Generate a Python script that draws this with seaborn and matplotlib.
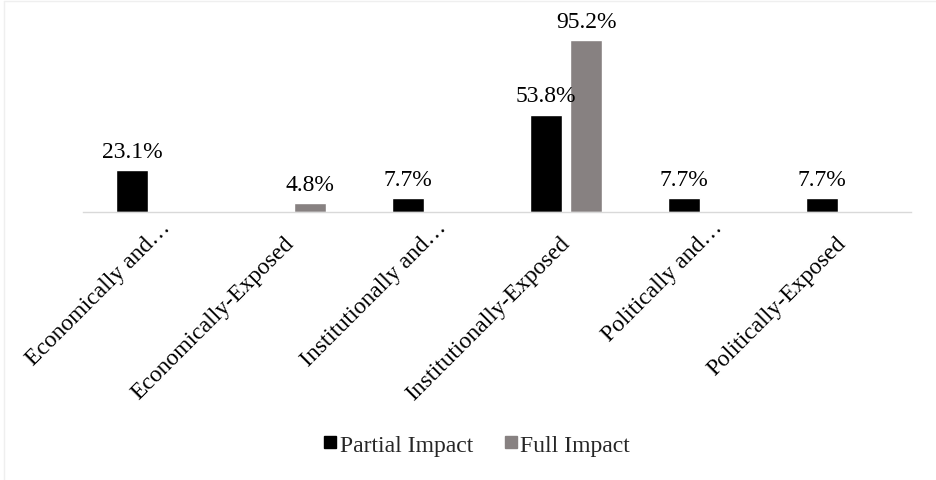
import matplotlib
matplotlib.use("Agg")
import matplotlib.pyplot as plt
import matplotlib.transforms as mtransforms
import seaborn as sns
import pandas as pd
from matplotlib.lines import Line2D

# Impact shares per exposure category (percent)
categories = ["Economically and…", "Economically-Exposed", "Institutionally and…",
              "Institutionally-Exposed", "Politically and…", "Politically-Exposed"]
partial_impact = [23.1, 0.0, 7.7, 53.8, 7.7, 7.7]
full_impact = [0.0, 4.8, 0.0, 95.2, 0.0, 0.0]
series_names = ["Partial Impact", "Full Impact"]
series_colors = ["#000000", "#878181"]

df = pd.DataFrame({
    "category": categories * 2,
    "series": [series_names[0]] * len(categories) + [series_names[1]] * len(categories),
    "value": partial_impact + full_impact,
})

sns.set_theme(style="white")
plt.rcParams["font.family"] = ["Liberation Serif", "DejaVu Serif"]

FS = 17

fig = plt.figure(figsize=(9.37, 4.81), dpi=100)
ax = fig.add_axes([0.0886, 0.557, 0.884, 0.376])

sns.barplot(data=df, x="category", y="value", hue="series", order=categories,
            hue_order=series_names, palette=series_colors, width=0.58, gap=0.2,
            saturation=1, legend=False, ax=ax)

ax.set_ylim(0, 100)
ax.set_xlim(-0.5, len(categories) - 0.5)
ax.set_xlabel("")
ax.set_ylabel("")
ax.set_yticks([])
for side in ["top", "right", "left"]:
    ax.spines[side].set_visible(False)
ax.spines["bottom"].set_color("#d9d9d9")
ax.spines["bottom"].set_linewidth(1.0)
ax.tick_params(axis="x", length=0, pad=9)

# Value labels only on non-zero bars
for container in ax.containers:
    labels = [f"{b.get_height():.1f}%" if b.get_height() > 0 else "" for b in container]
    ax.bar_label(container, labels=labels, padding=6, fontsize=FS, color="#000000")

ax.set_xticks(range(len(categories)))
ax.set_xticklabels(categories, rotation=45, ha="right", rotation_mode="anchor",
                   fontsize=FS, color="#000000")

# truncated labels sit a little further up-right than the full ones
for lbl in ax.get_xticklabels():
    if lbl.get_text().endswith("…"):
        dx, dy = 8 / 100, 8 / 100
    else:
        dx, dy = -7 / 100, -8 / 100
    lbl.set_transform(lbl.get_transform() +
                      mtransforms.ScaledTranslation(dx, dy, fig.dpi_scale_trans))

handles = [Line2D([0], [0], marker="s", linestyle="none", markersize=9,
                  markerfacecolor=c, markeredgecolor=c) for c in series_colors]
fig.legend(handles, series_names, loc="center", bbox_to_anchor=(0.508, 0.073),
           ncol=2, frameon=False, fontsize=FS, handletextpad=0.05,
           columnspacing=1.25, handlelength=0.7)

# faint chart-area border
fig.add_artist(Line2D([4 / 937, 4 / 937], [0, 1 - 2 / 481], transform=fig.transFigure,
                      color="#efefef", linewidth=1))
fig.add_artist(Line2D([4 / 937, 1], [1 - 2 / 481, 1 - 2 / 481], transform=fig.transFigure,
                      color="#efefef", linewidth=1))

fig.savefig("out.png", dpi=100)
